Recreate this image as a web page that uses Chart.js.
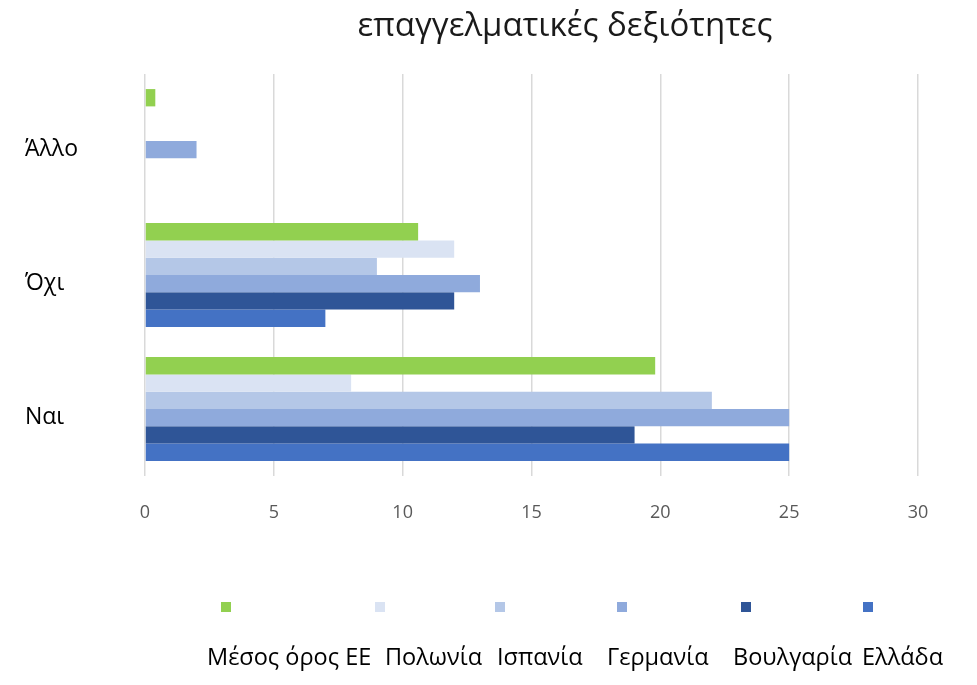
<!DOCTYPE html>
<html>
<head>
<meta charset="utf-8">
<script src="https://cdn.jsdelivr.net/npm/chart.js@4"></script>
<style>
  body { margin: 0; background: #fff; }
  #wrap { width: 977px; height: 685px; }
</style>
</head>
<body>
<div id="wrap"><canvas id="barChart" width="977" height="685"></canvas></div>
<script>
// categories and series
const categories = ['Άλλο', 'Όχι', 'Ναι'];
const seriesNames = ['Μέσος όρος ΕΕ', 'Πολωνία', 'Ισπανία', 'Γερμανία', 'Βουλγαρία', 'Ελλάδα'];
const euAverage = [0.4, 10.6, 19.8];
const poland = [0, 12, 8];
const spain = [0, 9, 22];
const germany = [2, 13, 25];
const bulgaria = [0, 12, 19];
const greece = [0, 7, 25];
const xTicks = [0, 5, 10, 15, 20, 25, 30];
const chartTitle = 'επαγγελματικές δεξιότητες';

const colors = ['#92D050', '#DAE3F3', '#B4C7E7', '#8FAADC', '#2F5597', '#4472C4'];
const values = [euAverage, poland, spain, germany, bulgaria, greece];

// legend layout (Excel style: squares on one row, names below)
const legendTextX = [207, 385, 497, 607, 733, 862];
const legendBoxX = [226, 380, 500, 622, 746, 868];

const titleAndLegend = {
    id: 'titleAndLegend',
    afterDraw(chart) {
        const ctx = chart.ctx;
        ctx.save();
        // title
        ctx.font = '33px "Open Sans"';
        ctx.fillStyle = '#1a1a1a';
        ctx.textAlign = 'center';
        ctx.textBaseline = 'middle';
        ctx.fillText(chartTitle, 565, 27);
        // legend
        ctx.font = '23.5px "Open Sans"';
        ctx.textAlign = 'left';
        chart.data.datasets.forEach((ds, i) => {
            ctx.fillStyle = ds.backgroundColor;
            ctx.fillRect(legendBoxX[i] - 5, 602, 10, 10);
            ctx.fillStyle = '#000';
            ctx.fillText(ds.label, legendTextX[i], 658);
        });
        ctx.restore();
    }
};

const ctx = document.getElementById('barChart').getContext('2d');
new Chart(ctx, {
    type: 'bar',
    data: {
        labels: categories,
        datasets: seriesNames.map((name, i) => ({
            label: name,
            data: values[i],
            backgroundColor: colors[i],
            borderWidth: 0,
            barPercentage: 1,
            categoryPercentage: 0.775
        }))
    },
    options: {
        indexAxis: 'y',
        responsive: false,
        animation: false,
        layout: {
            padding: { left: 25, right: 59, top: 74, bottom: 159 }
        },
        plugins: {
            legend: { display: false },
            tooltip: { enabled: false },
            title: { display: false }
        },
        scales: {
            x: {
                min: 0,
                max: 30,
                afterBuildTicks: axis => { axis.ticks = xTicks.map(v => ({ value: v })); },
                afterFit: axis => { axis.height = 50; },
                grid: { color: '#d9d9d9', lineWidth: 1.5, drawTicks: false },
                border: { display: false },
                ticks: {
                    color: '#595959',
                    padding: 26,
                    font: { family: 'Open Sans', size: 18 }
                }
            },
            y: {
                afterFit: axis => { axis.width = 120; },
                grid: { display: false },
                border: { display: false },
                ticks: {
                    color: '#000',
                    crossAlign: 'far',
                    padding: 20,
                    font: { family: 'Open Sans', size: 23, lineHeight: 0.7 },
                    callback: function (value) { return ['', this.getLabelForValue(value)]; }
                }
            }
        }
    },
    plugins: [titleAndLegend]
});
</script>
</body>
</html>
